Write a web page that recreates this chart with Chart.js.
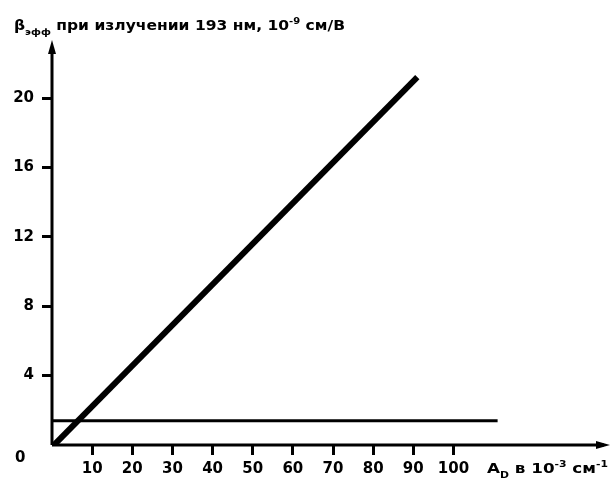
<!DOCTYPE html>
<html>
<head>
<meta charset="utf-8">
<script src="https://cdn.jsdelivr.net/npm/chart.js@4/dist/chart.umd.min.js"></script>
<style>
  body { margin: 0; background: #fff; }
  #wrap { width: 610px; height: 481px; }
</style>
</head>
<body>
<div id="wrap"><canvas id="c" width="610" height="481"></canvas></div>
<script>
// data
const betaX = [0.5, 91];      // A_D, 10^-3 см^-1
const betaY = [0, 21.2];      // β_эфф, 10^-9 см/В
const levelX = [0, 111];
const levelY = [1.4, 1.4];
const xTicks = [10, 20, 30, 40, 50, 60, 70, 80, 90, 100];
const yTicks = [4, 8, 12, 16, 20];

const toPts = (xs, ys) => xs.map((x, i) => ({ x: x, y: ys[i] }));
const FAM = '"DejaVu Sans", sans-serif';
const FONT = 'bold 14px ' + FAM;
const SMALL = 'bold 9px ' + FAM;

// text pieces [text, 'n'|'sub'|'sup'], stretched to fill a given width
function drawRich(ctx, x, y, width, parts) {
    let w = 0;
    parts.forEach(([t, kind]) => { ctx.font = kind === 'n' ? FONT : SMALL; w += ctx.measureText(t).width; });
    ctx.save();
    ctx.translate(x, y);
    ctx.scale(width / w, 1);
    let px = 0;
    parts.forEach(([t, kind]) => {
        ctx.font = kind === 'n' ? FONT : SMALL;
        let dy = kind === 'sub' ? 5 : kind === 'sup' ? -6 : 0;
        ctx.fillText(t, px, dy);
        px += ctx.measureText(t).width;
    });
    ctx.restore();
}

const decorations = {
    id: 'decorations',
    afterDraw(chart) {
        const ctx = chart.ctx;
        const xs = chart.scales.x, ys = chart.scales.y;
        const ox = xs.getPixelForValue(0), oy = ys.getPixelForValue(0);
        const right = xs.right, top = ys.top;
        ctx.save();
        ctx.fillStyle = '#000';
        ctx.strokeStyle = '#000';
        ctx.lineWidth = 3;
        // axes
        ctx.beginPath();
        ctx.moveTo(ox, oy); ctx.lineTo(ox, top + 2);
        ctx.moveTo(ox, oy); ctx.lineTo(right - 2, oy);
        ctx.stroke();
        // arrow heads
        ctx.beginPath();
        ctx.moveTo(ox, top - 6); ctx.lineTo(ox - 4, top + 8); ctx.lineTo(ox + 4, top + 8); ctx.closePath();
        ctx.fill();
        ctx.beginPath();
        ctx.moveTo(right + 4, oy); ctx.lineTo(right - 10, oy - 4); ctx.lineTo(right - 10, oy + 4); ctx.closePath();
        ctx.fill();
        // zero at origin
        ctx.font = 'bold 15px ' + FAM;
        ctx.textBaseline = 'alphabetic';
        ctx.textAlign = 'left';
        ctx.fillText('0', 15, 462);
        // axis titles
        drawRich(ctx, 14, 30, 331, [['β', 'n'], ['эфф', 'sub'], [' при излучении 193 нм, 10', 'n'], ['-9', 'sup'], [' см/В', 'n']]);
        drawRich(ctx, 487, 473, 121, [['A', 'n'], ['D', 'sub'], [' в 10', 'n'], ['-3', 'sup'], [' см', 'n'], ['-1', 'sup']]);
        ctx.restore();
    }
};

new Chart(document.getElementById('c'), {
    type: 'scatter',
    data: {
        datasets: [{
            data: toPts(betaX, betaY),
            showLine: true,
            borderColor: '#000',
            borderWidth: 6,
            pointRadius: 0,
            borderCapStyle: 'butt'
        }, {
            data: toPts(levelX, levelY),
            showLine: true,
            borderColor: '#000',
            borderWidth: 3,
            pointRadius: 0
        }]
    },
    options: {
        responsive: false,
        animation: false,
        layout: { padding: { top: 46, right: 4, left: 0, bottom: 0 } },
        plugins: { legend: { display: false }, tooltip: { enabled: false } },
        scales: {
            x: {
                type: 'linear',
                min: 0,
                max: 138,
                afterBuildTicks: s => { s.ticks = xTicks.map(v => ({ value: v })); },
                afterFit: s => { s.height = 36; },
                border: { display: false },
                grid: { drawOnChartArea: false, tickLength: 10, tickColor: '#000', lineWidth: 3 },
                ticks: { color: '#000', font: { family: 'DejaVu Sans', weight: 'bold', size: 15 }, padding: 5, maxRotation: 0 }
            },
            y: {
                min: 0,
                max: 23,
                afterBuildTicks: s => { s.ticks = yTicks.map(v => ({ value: v })); },
                afterFit: s => { s.width = 52; },
                border: { display: false },
                grid: { drawOnChartArea: false, tickLength: 10, tickColor: '#000', lineWidth: 3 },
                ticks: { color: '#000', font: { family: 'DejaVu Sans', weight: 'bold', size: 15 }, padding: 8 }
            }
        }
    },
    plugins: [decorations]
});
</script>
</body>
</html>
